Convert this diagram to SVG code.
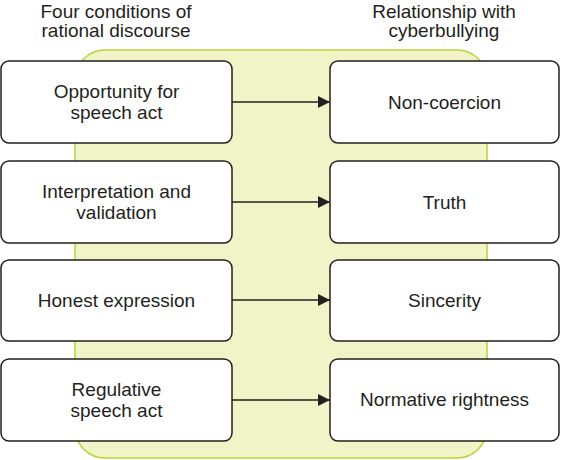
<svg xmlns="http://www.w3.org/2000/svg" width="561" height="460" viewBox="0 0 561 460">
<style>
text{font-family:"Liberation Sans",Arial,sans-serif;font-size:19px;fill:#231f20;text-anchor:middle}
.box{fill:#fff;stroke:#231f20;stroke-width:1.5}
.conn{stroke:#231f20;stroke-width:1.5;fill:none}
</style>
<defs>
<marker id="ah" markerWidth="12" markerHeight="12" refX="12" refY="6" orient="auto" markerUnits="userSpaceOnUse">
<path d="M0,0 L12,6 L0,12 Z" fill="#231f20"/>
</marker>
</defs>
<rect id="bg" x="75" y="50" width="412" height="408" rx="30" fill="#f1f4c6" stroke="#b8d33a" stroke-width="1.5"/>
<g id="headers">
<text x="116" y="17.5">Four conditions of</text>
<text x="116" y="37">rational discourse</text>
<text x="444" y="17.5">Relationship with</text>
<text x="444" y="37">cyberbullying</text>
</g>
<g id="connectors">
<line class="conn" x1="232" y1="102" x2="330" y2="102" marker-end="url(#ah)"/>
<line class="conn" x1="232" y1="202" x2="330" y2="202" marker-end="url(#ah)"/>
<line class="conn" x1="232" y1="300" x2="330" y2="300" marker-end="url(#ah)"/>
<line class="conn" x1="232" y1="400" x2="330" y2="400" marker-end="url(#ah)"/>
</g>
<g id="l1"><rect class="box" x="1" y="61" width="231" height="82" rx="8"/><text x="116.5" y="98">Opportunity for</text><text x="116.5" y="119">speech act</text></g>
<g id="l2"><rect class="box" x="1" y="161" width="231" height="82" rx="8"/><text x="116.5" y="198">Interpretation and</text><text x="116.5" y="219">validation</text></g>
<g id="l3"><rect class="box" x="1" y="260" width="231" height="81" rx="8"/><text x="116.5" y="307">Honest expression</text></g>
<g id="l4"><rect class="box" x="1" y="359" width="231" height="82" rx="8"/><text x="116.5" y="396">Regulative</text><text x="116.5" y="417">speech act</text></g>
<g id="r1"><rect class="box" x="330" y="61" width="229" height="82" rx="8"/><text x="444.5" y="109">Non-coercion</text></g>
<g id="r2"><rect class="box" x="330" y="161" width="229" height="82" rx="8"/><text x="444.5" y="209">Truth</text></g>
<g id="r3"><rect class="box" x="330" y="260" width="229" height="81" rx="8"/><text x="444.5" y="307">Sincerity</text></g>
<g id="r4"><rect class="box" x="330" y="359" width="229" height="82" rx="8"/><text x="444.5" y="406">Normative rightness</text></g>
</svg>
